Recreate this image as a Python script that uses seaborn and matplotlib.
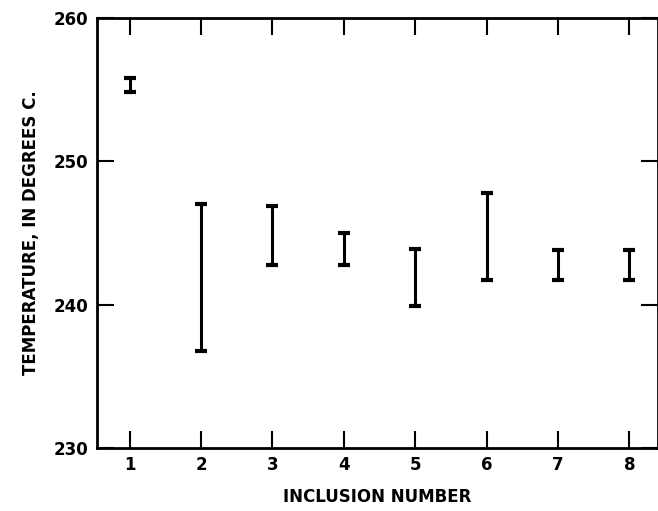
import matplotlib
matplotlib.use("Agg")
import matplotlib.pyplot as plt
import seaborn as sns
import numpy as np

# %% Data ----
inclusion = [1, 2, 3, 4, 5, 6, 7, 8]
temp_low = [254.8, 236.8, 242.8, 242.8, 239.9, 241.7, 241.7, 241.7]
temp_high = [255.8, 247.0, 246.9, 245.0, 243.9, 247.8, 243.8, 243.8]
y_ticks = [230, 240, 250, 260]

# %% Plot ----
sns.set_style("ticks")
plt.rcParams['font.family'] = ['DejaVu Sans']

fig = plt.figure(figsize=(6.58, 5.11), dpi=100)
ax = fig.add_axes([0.147, 0.123, 0.853, 0.842])

low = np.array(temp_low)
high = np.array(temp_high)
mid = (low + high) / 2
ax.errorbar(inclusion, mid, yerr=(high - low) / 2, fmt='none',
            ecolor='black', elinewidth=2.2, capsize=4, capthick=3)

ax.set_xlim(0.54, 8.4)
ax.set_ylim(230, 260)
ax.set_xticks(inclusion)
ax.set_yticks(y_ticks)
ax.tick_params(axis='both', direction='in', length=12, width=1.5,
               top=True, right=True, labelsize=12, colors='black', pad=6)
for lab in ax.get_xticklabels() + ax.get_yticklabels():
    lab.set_fontweight('bold')
for s in ax.spines.values():
    s.set_linewidth(2)
    s.set_color('black')

ax.set_xlabel('INCLUSION NUMBER', fontsize=12, fontweight='bold',
              color='black', labelpad=10)
ax.set_ylabel('TEMPERATURE, IN DEGREES C.', fontsize=12, fontweight='bold',
              color='black', labelpad=10)

fig.savefig('out.png', dpi=100)
